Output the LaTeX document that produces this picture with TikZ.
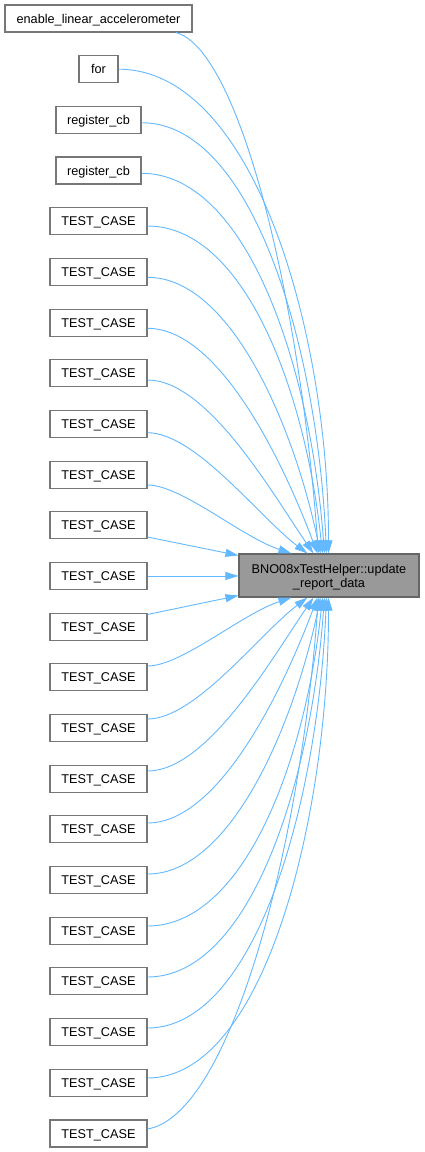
\documentclass[tikz,border=0pt]{standalone}
\usepackage{fontspec}
\setmainfont{Liberation Sans}
\usetikzlibrary{arrows.meta,calc}
\definecolor{edgecol}{HTML}{63B8FF}
\definecolor{boxline}{HTML}{777777}
\definecolor{tline}{HTML}{666666}
\definecolor{tfill}{HTML}{999999}
\tikzset{
  box/.style={draw=boxline, line width=1.1pt, fill=white, minimum height=27pt, inner sep=0pt, text height=9.1pt, text depth=0pt, anchor=center},
  tbox/.style={draw=tline, line width=1.1pt, fill=tfill, minimum width=180pt, minimum height=43pt, inner sep=0pt, align=center, text height=23.1pt, text depth=0pt},
  edge/.style={draw=edgecol, line width=0.9pt, -{Triangle[length=13pt,width=8pt]}},
}
\begin{document}
\begin{tikzpicture}[x=1pt,y=-1pt,font=\fontsize{12.7}{14}\selectfont]
\useasboundingbox (0,0) rectangle (424,1152);
% target
\node[tbox] (t) at (329,575.5) {BNO08xTestHelper::update\\\_report\_data};
% sources
\node[box, minimum width=187pt] (n0) at (98.5,18.5) {enable\_linear\_accelerometer};
\node[box, minimum width=39pt] (n1) at (98.5,69.18) {for};
\node[box, minimum width=85pt] (n2) at (98.5,119.86) {register\_cb};
\node[box, minimum width=85pt] (n3) at (98.5,170.54) {register\_cb};
\foreach \i/\y in {4/221.22,5/271.9,6/322.58,7/373.26,8/423.94,9/474.62,10/525.3,11/575.98,12/626.66,13/677.34,14/728.02,15/778.7,16/829.38,17/880.06,18/930.74,19/981.42,20/1032.1,21/1082.78,22/1133.46}
  \node[box, minimum width=97pt] (n\i) at (98.5,\y) {TEST\_CASE};
% upper edges
\draw[edge] ([xshift=77.5pt]n0.south) .. controls (240,50) and (300,300) .. ([xshift=80pt]t.north west);
\draw[edge] (n1.east) .. controls (255,69.5) and (329,336) .. ([xshift=90pt]t.north west);
\draw[edge] ([yshift=-2.84pt]n2.east) .. controls (252.6,122.7) and (317.7,347) .. ([xshift=88pt]t.north west);
\draw[edge] ([yshift=-2.76pt]n3.east) .. controls (245.9,173.3) and (310.3,363.65) .. ([xshift=86pt]t.north west);
\draw[edge] ([yshift=-4.78pt]n4.east) .. controls (243.8,226) and (305.4,390) .. ([xshift=84pt]t.north west);
\draw[edge] ([yshift=-5.4pt]n5.east) .. controls (231.8,277.3) and (294.9,429.5) .. ([xshift=82pt]t.north west);
\draw[edge] ([yshift=-5.72pt]n6.east) .. controls (219.7,328.3) and (283.8,463.7) .. ([xshift=79pt]t.north west);
\draw[edge] ([yshift=-6.74pt]n7.east) .. controls (207.5,380) and (272.25,493.1) .. ([xshift=75pt]t.north west);
\draw[edge] ([yshift=-8.76pt]n8.east) .. controls (195.3,432.7) and (259.7,517.6) .. ([xshift=69pt]t.north west);
\draw[edge] ([yshift=-10.38pt]n9.east) .. controls (181.4,485) and (241.25,536.75) .. ([xshift=53pt]t.north west);
\draw[edge] ([yshift=-11.7pt]n10.east) -- ([yshift=-2pt]t.north west);
% middle
\draw[edge] (n11.east) -- (n11.east -| t.west);
% lower edges
\draw[edge] ([yshift=12.2pt]n12.east) -- ([yshift=2pt]t.south west);
\draw[edge] ([yshift=11.34pt]n13.east) .. controls (181.4,666) and (241.25,614.25) .. ([xshift=53pt]t.south west);
\draw[edge] ([yshift=9.02pt]n14.east) .. controls (195.3,719) and (259.7,633.6) .. ([xshift=69pt]t.south west);
\draw[edge] ([yshift=7.7pt]n15.east) .. controls (207.5,771) and (272.25,657.9) .. ([xshift=75pt]t.south west);
\draw[edge] ([yshift=6.38pt]n16.east) .. controls (219.7,823) and (283.8,687.4) .. ([xshift=79pt]t.south west);
\draw[edge] ([yshift=6.06pt]n17.east) .. controls (231.8,874) and (294.9,721.65) .. ([xshift=82pt]t.south west);
\draw[edge] ([yshift=4.74pt]n18.east) .. controls (243.8,926) and (305.4,761.5) .. ([xshift=84pt]t.south west);
\draw[edge] ([yshift=4.42pt]n19.east) .. controls (248.5,977) and (310.8,787) .. ([xshift=86pt]t.south west);
\draw[edge] ([yshift=4.1pt]n20.east) .. controls (255,1028) and (318,803.9) .. ([xshift=88pt]t.south west);
\draw[edge] ([yshift=4.78pt]n21.east) .. controls (265.3,1078) and (329,813.5) .. ([xshift=90pt]t.south west);
\draw[edge] ([yshift=4.46pt]n22.east) .. controls (230,1115) and (300,850) .. ([xshift=80pt]t.south west);
\end{tikzpicture}
\end{document}
